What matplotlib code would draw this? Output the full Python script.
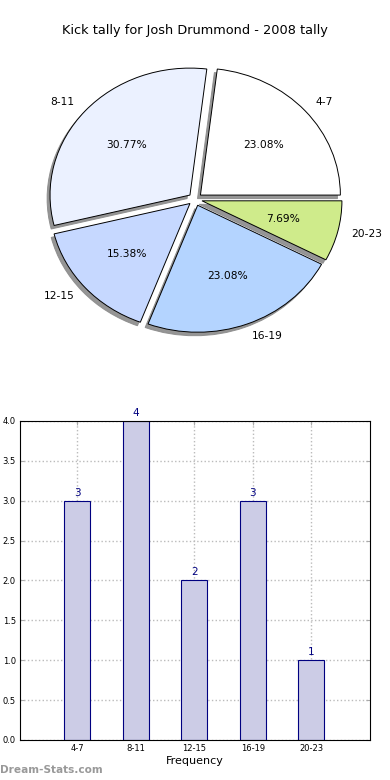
import matplotlib
matplotlib.use('Agg')
import matplotlib.pyplot as plt
import numpy as np

title = 'Kick tally for Josh Drummond - 2008 tally'
categories = ['4-7', '8-11', '12-15', '16-19', '20-23']
counts = [3, 4, 2, 3, 1]
pie_colors = ['#ffffff', '#ebf1ff', '#c6d8ff', '#b4d4ff', '#cfeb8b']

fig = plt.figure(figsize=(3.9, 7.8), dpi=100)

# pie
ax1 = fig.add_axes([0.052, 0.541, 0.897, 0.407])
wedges, texts, autotexts = ax1.pie(
    counts, labels=categories, colors=pie_colors, autopct='%1.2f%%',
    explode=[0.05] * len(counts),
    shadow={'ox': -0.015, 'oy': -0.02, 'facecolor': '#8a8a8a',
            'edgecolor': '#8a8a8a', 'alpha': 0.9},
    startangle=0,
    wedgeprops=dict(edgecolor='black', linewidth=0.7),
    textprops=dict(fontsize=7.7))
ax1.set_aspect('auto')
ax1.set_xlim(-1.25, 1.25)
ax1.set_ylim(-1.25, 1.25)
fig.text(0.5, 0.961, title, ha='center', va='center', fontsize=9.3)

# bars
ax2 = fig.add_axes([0.051, 0.0513, 0.897, 0.409])
x = np.arange(len(categories))
ax2.bar(x, counts, width=0.45, color='#ccccE6', edgecolor='#000080', linewidth=0.8, zorder=2)
for xi, c in zip(x, counts):
    ax2.text(xi, c + 0.04, str(c), ha='center', va='bottom', color='#000080', fontsize=7.5)
ax2.set_xlim(-0.98, 5.0)
ax2.set_ylim(0, 4)
ax2.set_xticks(x)
ax2.set_xticklabels(categories, fontsize=6)
ax2.set_yticks(np.arange(0, 4.01, 0.5))
ax2.set_yticklabels(['%.1f' % v for v in np.arange(0, 4.01, 0.5)], fontsize=6)
ax2.tick_params(direction='in', top=True, right=True, length=3, color='#aaaaaa', pad=3)
ax2.grid(True, linestyle=':', color='#bbbbbb', linewidth=1, zorder=0)
ax2.set_xlabel('Frequency', fontsize=8, labelpad=2)

fig.text(0.0, 0.013, 'Dream-Stats.com', ha='left', va='center', fontsize=7.6,
         color='#999999', fontweight='bold')

fig.savefig('out.png', dpi=100)
